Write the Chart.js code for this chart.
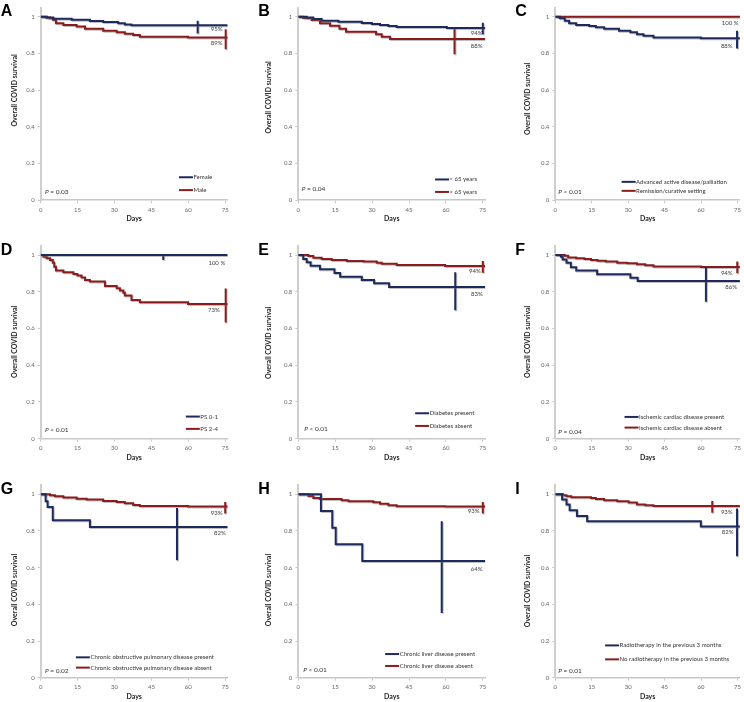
<!DOCTYPE html>
<html>
<head>
<meta charset="utf-8">
<script src="https://cdn.jsdelivr.net/npm/chart.js@4.4.1/dist/chart.umd.min.js"></script>
<style>
  body { margin: 0; background: #fff; width: 744px; height: 702px; position: relative; overflow: hidden; }
  canvas { position: absolute; }
</style>
</head>
<body>
<script>
// axis ticks
const dayTicks = [0, 15, 30, 45, 60, 75];
const survTicks = [0, 0.2, 0.4, 0.6, 0.8, 1];

// A - sex
const aFemaleDays = [0, 2.4, 5.1, 12.6, 20, 25.4, 31.5, 34.2, 36.9, 76];
const aFemaleSurv = [1, 0.996, 0.989, 0.984, 0.976, 0.971, 0.964, 0.958, 0.953, 0.953];
const aFemaleCIDay = 63.8, aFemaleCI = [0.909, 0.978];
const aMaleDays = [0, 2.4, 3.8, 5.1, 6.2, 9.2, 14.6, 18, 25.4, 30.9, 34.2, 37.6, 40.3, 59.9, 76];
const aMaleSurv = [1, 0.996, 0.991, 0.982, 0.964, 0.955, 0.946, 0.935, 0.924, 0.915, 0.907, 0.9, 0.891, 0.886, 0.886];
const aMaleCIDay = 75.2, aMaleCI = [0.822, 0.931];

// B - age
const bYoungDays = [0, 3.4, 6.1, 9.5, 16.3, 25.8, 29.9, 33.2, 36.6, 40, 60.4, 76];
const bYoungSurv = [1, 0.996, 0.987, 0.978, 0.973, 0.966, 0.96, 0.955, 0.949, 0.944, 0.938, 0.938];
const bYoungCIDay = 75, bYoungCI = [0.904, 0.967];
const bOldDays = [0, 2, 5.4, 8.8, 12.9, 16.7, 19.4, 31.6, 33.9, 37.3, 76];
const bOldSurv = [1, 0.993, 0.982, 0.964, 0.951, 0.935, 0.918, 0.904, 0.891, 0.878, 0.878];
const bOldCIDay = 63.5, bOldCI = [0.795, 0.933];

// C - disease setting
const cAdvancedDays = [0, 1.9, 3.9, 5.7, 8.6, 14, 16.7, 20.1, 26.2, 30.9, 33.6, 36.3, 40.4, 59.9, 76];
const cAdvancedSurv = [1, 0.991, 0.978, 0.964, 0.955, 0.949, 0.942, 0.935, 0.924, 0.915, 0.905, 0.896, 0.887, 0.882, 0.882];
const cAdvancedCIDay = 74.8, cAdvancedCI = [0.827, 0.924];
const cRemissionDays = [0, 76];
const cRemissionSurv = [1, 1];

// D - performance status
const dPs01Days = [0, 76];
const dPs01Surv = [1, 1];
const dPs01CIDay = 49.8, dPs01CI = [0.973, 1.004];
const dPs24Days = [0, 1.1, 2.4, 3.8, 4.9, 5.5, 6.2, 9.2, 13.3, 14.9, 16.6, 18, 20, 26.1, 30.9, 32.2, 33.6, 34.2, 36.9, 40.3, 59.9, 76];
const dPs24Surv = [1, 0.991, 0.982, 0.973, 0.958, 0.936, 0.915, 0.906, 0.897, 0.888, 0.877, 0.864, 0.855, 0.831, 0.819, 0.806, 0.795, 0.779, 0.755, 0.742, 0.733, 0.733];
const dPs24CIDay = 75.2, dPs24CI = [0.633, 0.818];

// E - diabetes
const eDiabYesDays = [0, 2, 3.4, 5, 8.8, 14.7, 17, 25.8, 30.8, 36.9, 76];
const eDiabYesSurv = [1, 0.978, 0.96, 0.942, 0.922, 0.902, 0.882, 0.864, 0.846, 0.826, 0.826];
const eDiabYesCIDay = 63.8, eDiabYesCI = [0.699, 0.906];
const eDiabNoDays = [0, 4.1, 6.1, 9.5, 13.6, 19.7, 26.5, 31.9, 33.9, 40, 59.7, 76];
const eDiabNoSurv = [1, 0.995, 0.985, 0.978, 0.973, 0.967, 0.964, 0.958, 0.953, 0.946, 0.94, 0.94];
const eDiabNoCIDay = 75, eDiabNoCI = [0.904, 0.967];

// F - ischemic cardiac disease
const fIschYesDays = [0, 2.3, 3, 4.6, 6.4, 8.6, 17.2, 30.9, 33.9, 76];
const fIschYesSurv = [1, 0.991, 0.976, 0.958, 0.933, 0.915, 0.895, 0.876, 0.858, 0.858];
const fIschYesCIDay = 62, fIschYesCI = [0.745, 0.936];
const fIschNoDays = [0, 3.9, 5.3, 8.6, 12, 14.7, 17.4, 20.8, 25.5, 29.6, 33.6, 37, 40.4, 60, 76];
const fIschNoSurv = [1, 0.996, 0.987, 0.982, 0.978, 0.973, 0.969, 0.964, 0.958, 0.955, 0.949, 0.944, 0.938, 0.935, 0.935];
const fIschNoCIDay = 74.9, fIschNoCI = [0.9, 0.964];

// G - COPD
const gCopdYesDays = [0, 2, 2.8, 4.9, 20, 76];
const gCopdYesSurv = [1, 0.962, 0.931, 0.858, 0.822, 0.822];
const gCopdYesCIDay = 55.4, gCopdYesCI = [0.64, 0.925];
const gCopdNoDays = [0, 3.8, 5.8, 9.2, 14.6, 18.7, 25.4, 30.9, 34.2, 37.6, 40.3, 59.9, 76];
const gCopdNoSurv = [1, 0.995, 0.989, 0.982, 0.976, 0.971, 0.964, 0.958, 0.951, 0.942, 0.936, 0.933, 0.933];
const gCopdNoCIDay = 75, gCopdNoCI = [0.895, 0.958];

// H - chronic liver disease
const hLiverYesDays = [0, 9.2, 13.8, 15.2, 26, 76];
const hLiverYesSurv = [1, 0.909, 0.818, 0.727, 0.636, 0.636];
const hLiverYesCIDay = 58.3, hLiverYesCI = [0.353, 0.853];
const hLiverNoDays = [0, 4.1, 6.1, 8.8, 17.6, 20.4, 30.5, 33.2, 36.6, 40, 59.7, 76];
const hLiverNoSurv = [1, 0.991, 0.98, 0.975, 0.967, 0.962, 0.956, 0.949, 0.94, 0.935, 0.933, 0.933];
const hLiverNoCIDay = 75, hLiverNoCI = [0.895, 0.958];

// I - radiotherapy
const iRadioYesDays = [0, 2.8, 4.6, 5.9, 8.9, 13.1, 59.9, 76];
const iRadioYesSurv = [1, 0.971, 0.944, 0.913, 0.882, 0.853, 0.824, 0.824];
const iRadioYesCIDay = 74.8, iRadioYesCI = [0.662, 0.922];
const iRadioNoDays = [0, 3.2, 4.6, 6.6, 14.7, 16.7, 20.1, 25.5, 30.2, 33.6, 37, 40.4, 76];
const iRadioNoSurv = [1, 0.995, 0.989, 0.984, 0.98, 0.975, 0.967, 0.962, 0.955, 0.945, 0.94, 0.936, 0.936];
const iRadioNoCIDay = 64.6, iRadioNoCI = [0.9, 0.964];

const NAVY = "#1e2a5c";
const RED = "#8b1c1e";
const FONT = "Lato, 'Open Sans', sans-serif";

const panels = [
  {
    letter: "A", p: "= 0.03", pDx: 4.3, pY: 0.044, legX: 56.2, legY: [0.125, 0.055], titleShift: -18,
    groups: [
      { label: "Female", color: NAVY, days: aFemaleDays, surv: aFemaleSurv, ciDay: aFemaleCIDay, ci: aFemaleCI },
      { label: "Male", color: RED, days: aMaleDays, surv: aMaleSurv, ciDay: aMaleCIDay, ci: aMaleCI },
    ],
    pct: [["95%", 73.9, 0.931], ["89%", 73.9, 0.855]],
  },
  {
    letter: "B", p: "= 0.04", pDx: 3.4, pY: 0.06, legX: 55.6, legY: [0.113, 0.045], titleShift: -11,
    groups: [
      { label: "< 65 years", color: NAVY, days: bYoungDays, surv: bYoungSurv, ciDay: bYoungCIDay, ci: bYoungCI },
      { label: "> 65 years", color: RED, days: bOldDays, surv: bOldSurv, ciDay: bOldCIDay, ci: bOldCI },
    ],
    pct: [["94%", 74.9, 0.913], ["88%", 74.9, 0.842]],
  },
  {
    letter: "C", p: "< 0.01", pDx: 3, pY: 0.045, legX: 27.3, legY: [0.1, 0.051], titleShift: -9.5,
    groups: [
      { label: "Advanced active disease/palliation", color: NAVY, days: cAdvancedDays, surv: cAdvancedSurv, ciDay: cAdvancedCIDay, ci: cAdvancedCI },
      { label: "Remission/curative setting", color: RED, days: cRemissionDays, surv: cRemissionSurv },
    ],
    pct: [["100 %", 75.4, 0.967], ["88%", 73, 0.842]],
  },
  {
    letter: "D", p: "< 0.01", pDx: 4.3, pY: 0.047, legX: 59, legY: [0.12, 0.053], titleShift: -5,
    groups: [
      { label: "PS 0-1", color: NAVY, days: dPs01Days, surv: dPs01Surv, ciDay: dPs01CIDay, ci: dPs01CI },
      { label: "PS 2-4", color: RED, days: dPs24Days, surv: dPs24Surv, ciDay: dPs24CIDay, ci: dPs24CI },
    ],
    pct: [["100 %", 75, 0.955], ["73%", 72.8, 0.702]],
  },
  {
    letter: "E", p: "< 0.01", pDx: 6, pY: 0.053, legX: 47.5, legY: [0.138, 0.069], titleShift: -4,
    groups: [
      { label: "Diabetes present", color: NAVY, days: eDiabYesDays, surv: eDiabYesSurv, ciDay: eDiabYesCIDay, ci: eDiabYesCI },
      { label: "Diabetes absent", color: RED, days: eDiabNoDays, surv: eDiabNoSurv, ciDay: eDiabNoCIDay, ci: eDiabNoCI },
    ],
    pct: [["94%", 74.2, 0.911], ["83%", 75, 0.786]],
  },
  {
    letter: "F", p: "= 0.04", pDx: 3, pY: 0.038, legX: 28.5, legY: [0.118, 0.06], titleShift: -5,
    groups: [
      { label: "Ischemic cardiac disease present", color: NAVY, days: fIschYesDays, surv: fIschYesSurv, ciDay: fIschYesCIDay, ci: fIschYesCI },
      { label: "Ischemic cardiac disease absent", color: RED, days: fIschNoDays, surv: fIschNoSurv, ciDay: fIschNoCIDay, ci: fIschNoCI },
    ],
    pct: [["94%", 73, 0.9], ["86%", 74.8, 0.824]],
  },
  {
    letter: "G", p: "= 0.02", pDx: 4.3, pY: 0.035, legX: 14.3, legY: [0.111, 0.055], titleShift: 4,
    groups: [
      { label: "Chronic obstructive pulmonary disease present", color: NAVY, days: gCopdYesDays, surv: gCopdYesSurv, ciDay: gCopdYesCIDay, ci: gCopdYesCI },
      { label: "Chronic obstructive pulmonary disease absent", color: RED, days: gCopdNoDays, surv: gCopdNoSurv, ciDay: gCopdNoCIDay, ci: gCopdNoCI },
    ],
    pct: [["93%", 73.9, 0.898], ["82%", 75.2, 0.791]],
  },
  {
    letter: "H", p: "< 0.01", pDx: 5, pY: 0.045, legX: 35.3, legY: [0.129, 0.064], titleShift: 4,
    groups: [
      { label: "Chronic liver disease present", color: NAVY, days: hLiverYesDays, surv: hLiverYesSurv, ciDay: hLiverYesCIDay, ci: hLiverYesCI },
      { label: "Chronic liver disease absent", color: RED, days: hLiverNoDays, surv: hLiverNoSurv, ciDay: hLiverNoCIDay, ci: hLiverNoCI },
    ],
    pct: [["93%", 73.7, 0.909], ["64%", 74.9, 0.591]],
  },
  {
    letter: "I", p: "= 0.01", pDx: 3, pY: 0.035, legX: 20.5, legY: [0.176, 0.1], titleShift: 5,
    groups: [
      { label: "Radiotherapy in the previous 3 months", color: NAVY, days: iRadioYesDays, surv: iRadioYesSurv, ciDay: iRadioYesCIDay, ci: iRadioYesCI },
      { label: "No radiotherapy in the previous 3 months", color: RED, days: iRadioNoDays, surv: iRadioNoSurv, ciDay: iRadioNoCIDay, ci: iRadioNoCI },
    ],
    pct: [["93%", 73, 0.904], ["82%", 73.4, 0.793]],
  },
];

// page layout of the 3x3 grid (pixels)
const colLeft = [0, 245, 495];
const colWidth = [245, 250, 249];
const plotLeft = [40.7, 298.3, 555.3];
const plotX75 = [225.2, 482.8, 740.5];
const titleGap = [25.7, 30, 27.5];
const rowTop = [0, 230, 462];
const plotY1 = [16.7, 255, 494.3];
const plotY0 = [200.2, 438.6, 677.7];

function buildDatasets(panel) {
  const sets = [];
  panel.groups.forEach((g) => {
    sets.push({
      data: g.days.map((d, i) => ({ x: d, y: g.surv[i] })),
      borderColor: g.color,
      borderWidth: 2,
      stepped: true,
      pointRadius: 0,
    });
    if (g.ci) {
      sets.push({
        data: [{ x: g.ciDay, y: g.ci[0] }, { x: g.ciDay, y: g.ci[1] }],
        borderColor: g.color,
        borderWidth: 2,
        pointRadius: 0,
      });
    }
  });
  return sets;
}

// text, legend and shadow drawn on top of each panel
function panelPlugin(panel, col) {
  return {
    id: "kmDecor",
    beforeDatasetsDraw(chart) {
      const ctx = chart.ctx;
      ctx.save();
      ctx.shadowColor = "rgba(110,110,110,0.45)";
      ctx.shadowOffsetX = 1;
      ctx.shadowOffsetY = 1;
      ctx.shadowBlur = 0.5;
    },
    afterDatasetsDraw(chart) {
      chart.ctx.restore();
    },
    afterDraw(chart) {
      const ctx = chart.ctx;
      const xs = chart.scales.x;
      const ys = chart.scales.y;
      const px = (v) => xs.getPixelForValue(v);
      const py = (v) => ys.getPixelForValue(v);
      ctx.save();

      // panel letter
      ctx.fillStyle = "#000";
      ctx.textAlign = "left";
      ctx.textBaseline = "alphabetic";
      ctx.font = "bold 16px 'Liberation Sans', Arial, sans-serif";
      ctx.fillText(panel.letter, px(0) - 40, py(1) - 0.5);

      // y axis title
      ctx.save();
      ctx.translate(px(0) - titleGap[col], py(0.5) + panel.titleShift);
      ctx.rotate(-Math.PI / 2);
      ctx.textAlign = "center";
      ctx.textBaseline = "middle";
      ctx.fillStyle = "#262626";
      ctx.font = "bold 7px " + FONT;
      ctx.fillText("Overall COVID survival", 0, 0);
      ctx.restore();

      // P value
      ctx.textBaseline = "middle";
      ctx.fillStyle = "#333";
      let x = px(0) + panel.pDx;
      const y = py(panel.pY);
      ctx.font = "italic 6.5px " + FONT;
      ctx.fillText("P", x, y);
      x += ctx.measureText("P").width;
      ctx.font = "6.5px " + FONT;
      ctx.fillText(" " + panel.p, x, y);

      // legend
      ctx.font = "6px " + FONT;
      panel.groups.forEach((g, i) => {
        const lx = px(panel.legX);
        const ly = py(panel.legY[i]);
        ctx.strokeStyle = g.color;
        ctx.lineWidth = 2;
        ctx.beginPath();
        ctx.moveTo(lx, ly);
        ctx.lineTo(lx + 14, ly);
        ctx.stroke();
        ctx.fillStyle = "#333";
        ctx.fillText(g.label, lx + 14.5, ly);
      });

      // survival percentages
      ctx.textAlign = "right";
      ctx.fillStyle = "#404040";
      panel.pct.forEach(([txt, d, v]) => ctx.fillText(txt, px(d), py(v)));

      ctx.restore();
    },
  };
}

panels.forEach((panel, k) => {
  const r = Math.floor(k / 3);
  const c = k % 3;
  const W = colWidth[c];
  const pxPerDay = (plotX75[c] - plotLeft[c]) / 75;
  const left = plotLeft[c] - colLeft[c];
  const right = left + 76 * pxPerDay;
  const top = plotY1[r] - 0.05 * (plotY0[r] - plotY1[r]) - rowTop[r];
  const bottom = plotY0[r] - rowTop[r];
  const H = Math.round(bottom + 25);

  const canvas = document.createElement("canvas");
  canvas.width = W;
  canvas.height = H;
  canvas.style.left = colLeft[c] + "px";
  canvas.style.top = rowTop[r] + "px";
  document.body.appendChild(canvas);

  new Chart(canvas.getContext("2d"), {
    type: "line",
    data: { datasets: buildDatasets(panel) },
    plugins: [panelPlugin(panel, c)],
    options: {
      responsive: false,
      animation: false,
      layout: { padding: { left: 0, top: top, right: W - right, bottom: 0 } },
      plugins: { legend: { display: false }, tooltip: { enabled: false } },
      scales: {
        x: {
          type: "linear",
          min: 0,
          max: 76,
          afterBuildTicks: (s) => { s.ticks = dayTicks.map((v) => ({ value: v })); },
          afterFit: (s) => { s.height = H - bottom; },
          border: { color: "#c8c8c8", width: 1.5 },
          grid: { drawOnChartArea: false, tickLength: 3, color: "#c8c8c8" },
          ticks: { color: "#666", padding: 3, maxRotation: 0, font: { family: FONT, size: 6 }, callback: (v) => String(v) },
          title: { display: true, text: "Days", color: "#262626", padding: { top: 0, bottom: 2 }, font: { family: FONT, size: 7, weight: "bold" } },
        },
        y: {
          min: 0,
          max: 1.05,
          afterBuildTicks: (s) => { s.ticks = survTicks.map((v) => ({ value: v })); },
          afterFit: (s) => { s.width = left; },
          border: { color: "#cfcfcf", width: 2 },
          grid: { drawOnChartArea: false, tickLength: 3, color: "#c8c8c8" },
          ticks: { color: "#666", padding: 3, font: { family: FONT, size: 6 }, callback: (v) => String(v) },
        },
      },
    },
  });
});
</script>
</body>
</html>
